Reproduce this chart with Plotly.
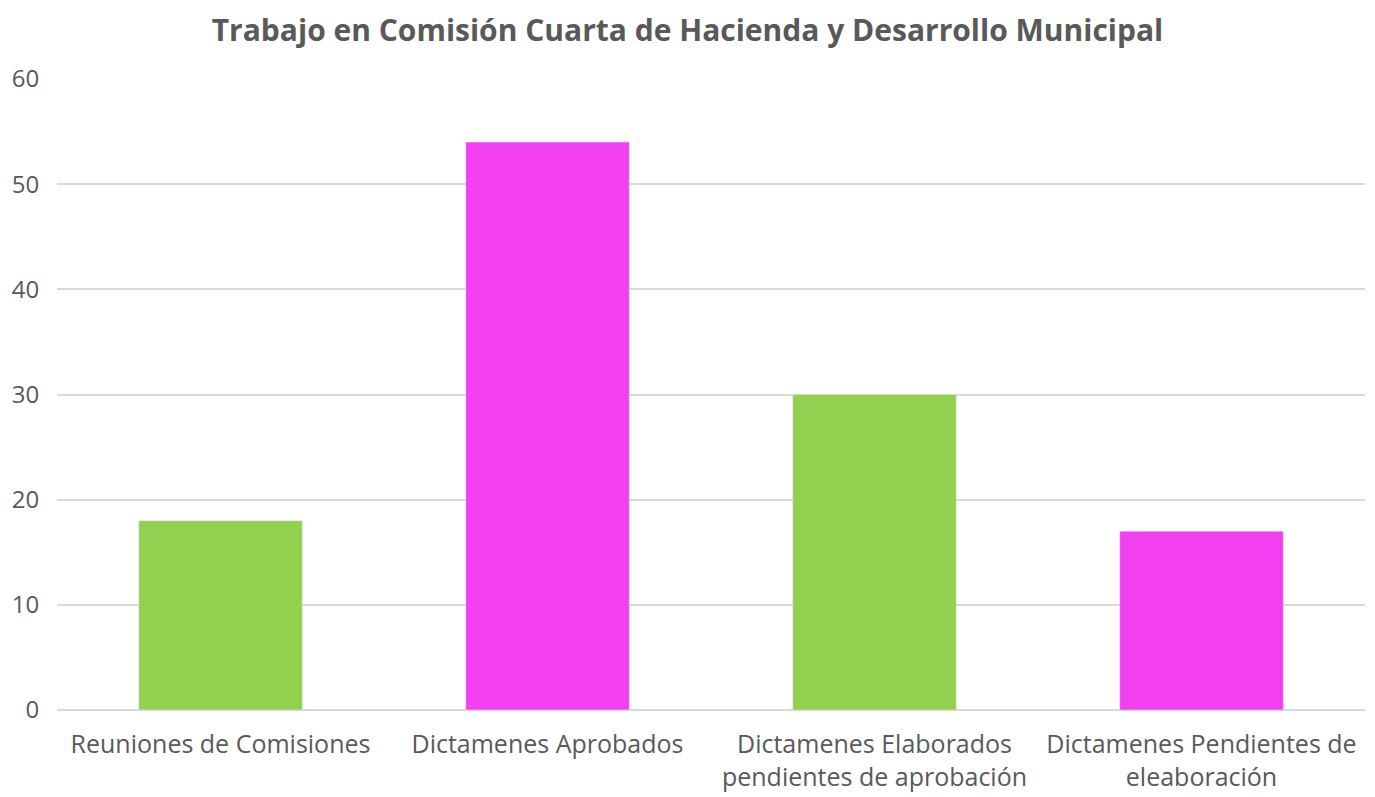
import plotly.graph_objects as go

categories = ["Reuniones de Comisiones", "Dictamenes Aprobados",
              "Dictamenes Elaborados<br>pendientes de aprobación",
              "Dictamenes Pendientes de<br>eleaboración"]
values = [18, 54, 30, 17]
colors = ["#92D050", "#F23FF0", "#92D050", "#F23FF0"]
tick_vals = [0, 10, 20, 30, 40, 50, 60]

fig = go.Figure(go.Bar(x=categories, y=values, marker_color=colors, width=0.5))
fig.update_layout(
    width=1359, height=789,
    margin=dict(l=49, r=2, t=71, b=87),
    paper_bgcolor="white", plot_bgcolor="white",
    title=dict(text="<b>Trabajo en Comisión Cuarta de Hacienda y Desarrollo Municipal</b>",
               x=0.5, xanchor="center", y=1 - 22 / 789, yanchor="middle",
               font=dict(family="Open Sans", size=30, color="#595959")),
    font=dict(family="Open Sans", size=25, color="#595959"),
    showlegend=False,
    bargap=0.5,
)
fig.update_yaxes(range=[0, 60], tickvals=tick_vals, gridcolor="#D9D9D9", gridwidth=1.5,
                 zeroline=True, zerolinecolor="#D9D9D9", zerolinewidth=1.5,
                 ticks="outside", ticklen=12, tickcolor="rgba(0,0,0,0)",
                 tickfont=dict(size=24))
fig.update_xaxes(ticks="outside", ticklen=12, tickcolor="rgba(0,0,0,0)", showline=False,
                 automargin=False)
fig.write_html("out.html")
